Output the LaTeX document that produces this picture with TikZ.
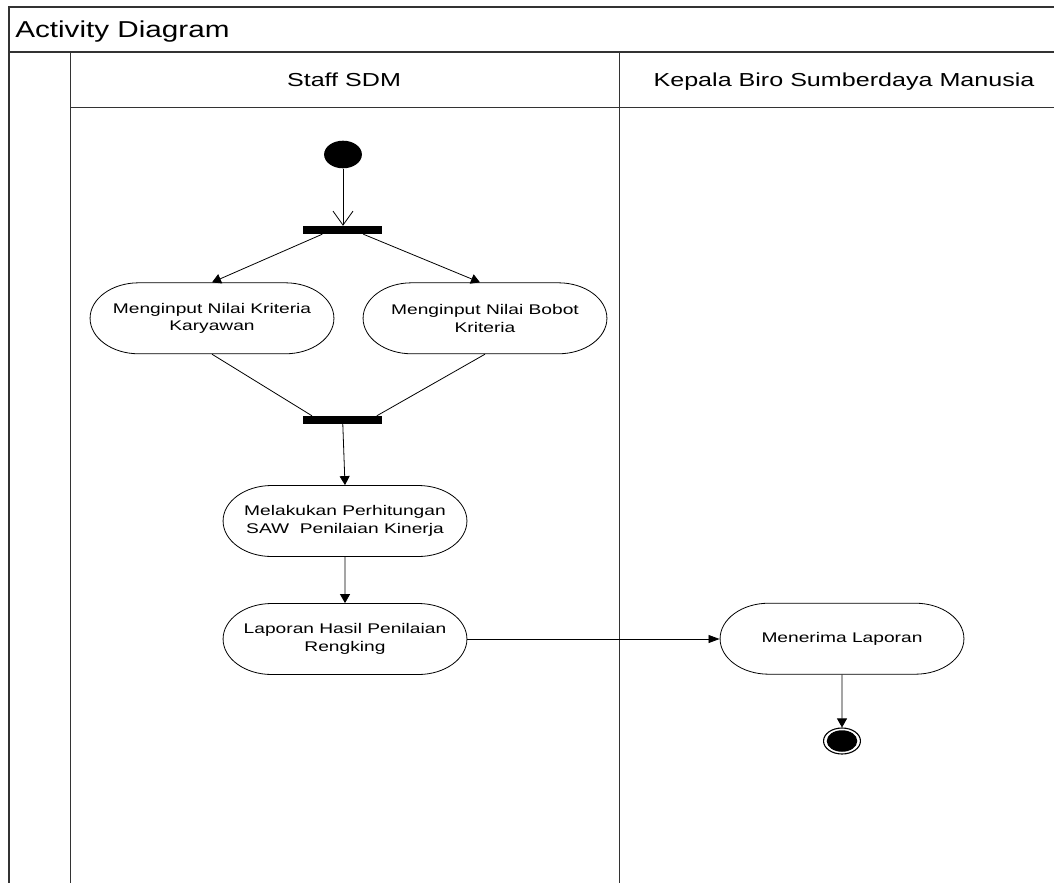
\documentclass[tikz,border=0pt]{standalone}
\usepackage{fontspec}
\setmainfont{Liberation Sans}
\usetikzlibrary{shapes.misc,arrows.meta}
\tikzset{
  frameline/.style={line width=1.3pt, draw=black!80},
  action/.style={rounded rectangle, draw, line width=0.8pt, xscale=1.37,
    minimum width=178pt, minimum height=71pt, inner sep=0pt, align=center,
    font=\fontsize{14}{17.7}\selectfont},
  forkbar/.style={fill=black, draw=none, minimum width=79pt, minimum height=8pt, inner sep=0pt},
  flow/.style={line width=0.8pt, -{Triangle[length=9pt,width=10pt]}},
  hflow/.style={line width=0.8pt, -{Triangle[length=11pt,width=8pt]}},
  plainflow/.style={line width=0.8pt},
  openflow/.style={line width=0.8pt, -{Straight Barb[length=14pt,width=20pt]}},
  titletext/.style={inner sep=0pt, xscale=1.29, font=\fontsize{23}{28}\selectfont},
  lanetext/.style={inner sep=0pt, xscale=1.335, font=\fontsize{18.8}{22}\selectfont},
}
\begin{document}
\begin{tikzpicture}[x=1pt,y=1pt]
\useasboundingbox (0,0) rectangle (1054,-883);
% frame
\draw[frameline] (1054,-7) -- (9,-7) -- (9,-883);
\draw[frameline] (9,-52) -- (1054,-52);
\draw[frameline] (70.5,-52) -- (70.5,-883);
\draw[frameline] (70.5,-107.3) -- (1054,-107.3);
\draw[frameline] (619.5,-52) -- (619.5,-883);
% texts
\node[titletext, anchor=base west] (title) at (15,-37.3) {Activity Diagram};
\node[lanetext, anchor=base] (lane1) at (344,-86.7) {Staff SDM};
\node[lanetext, anchor=base] (lane2) at (844,-86.7) {Kepala Biro Sumberdaya Manusia};
% nodes
\node[circle, fill=black, minimum size=27.6pt, inner sep=0pt, xscale=1.37] (start) at (343,-154.5) {};
\node[forkbar] (fork1) at (342.8,-230) {};
\node[action] (n1) at (212,-318.3) {Menginput Nilai Kriteria\\Karyawan};
\node[action] (n2) at (485,-318.3) {Menginput Nilai Bobot\\Kriteria};
\node[forkbar] (fork2) at (342.8,-420) {};
\node[action] (n3) at (345,-521) {Melakukan Perhitungan\\SAW\ \ Penilaian Kinerja};
\node[action] (n4) at (345,-639) {Laporan Hasil Penilaian\\Rengking};
\node[action] (n5) at (842,-638.7) {Menerima Laporan};
\node[circle, draw, line width=1.1pt, fill=white, minimum size=26pt, inner sep=0pt, xscale=1.42] (final) at (842,-741) {};
\node[circle, fill=black, minimum size=21.5pt, inner sep=0pt, xscale=1.42] (finalin) at (final.center) {};
% connectors
\draw[openflow] (start.south) -- (start.south |- fork1.north);
\draw[flow] ([xshift=-20.5pt]fork1.south) -- (n1.north);
\draw[flow] ([xshift=20.5pt]fork1.south) -- ([xshift=-5pt]n2.north);
\draw[plainflow] (n1.south) -- ([xshift=-30.8pt]fork2.north);
\draw[plainflow] (n2.south) -- ([xshift=34pt]fork2.north);
\draw[flow] (fork2.south) -- (n3.north);
\draw[flow] (n3) -- (n4);
\draw[hflow] (n4.east) -- (n5.west |- n4.east);
\draw[flow] (n5) -- (final);
\end{tikzpicture}
\end{document}
